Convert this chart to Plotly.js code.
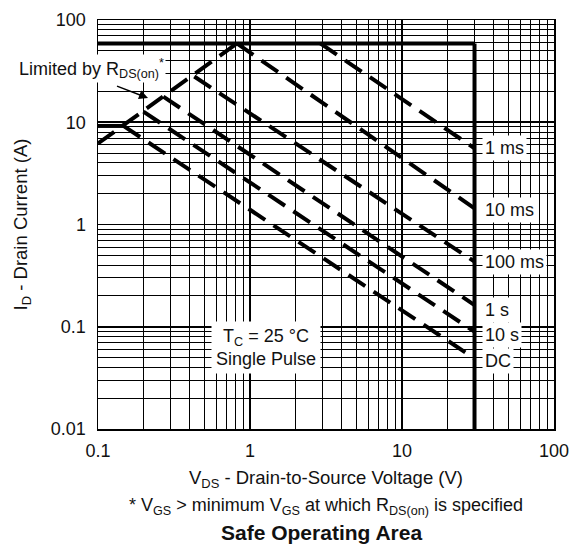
<!DOCTYPE html>
<html><head><meta charset="utf-8">
<script src="https://cdn.plot.ly/plotly-3.0.1.min.js"></script>
<style>html,body{margin:0;padding:0;background:#fff}#chart{width:574px;height:547px}</style>
</head><body><div id="chart"></div>
<script>
// Axis ticks
const xTickVals = [0.1, 1, 10, 100];
const xTickText = ['0.1', '1', '10', '100'];
const yTickVals = [0.01, 0.1, 1, 10, 100];
const yTickText = ['0.01', '0.1', '1', '10', '100'];
const gridDigits = [2, 3, 4, 5, 6, 7, 8, 9];
const xDecades = [0.1, 1, 10];
const yDecades = [0.01, 0.1, 1, 10];

// Boundary lines
const limitV = [0.1, 30];   const limitI = [59, 59];      // current limit
const vmaxV = [30, 30];     const vmaxI = [59, 0.01];     // voltage limit
const rdsV = [0.1, 0.82];   const rdsI = [6.2, 59];       // RDS(on) limit
const dcFlatV = [0.1, 0.147]; const dcFlatI = [9.2, 9.2];

// Pulse curves
const curveNames = ['1 ms', '10 ms', '100 ms', '1 s', '10 s', 'DC'];
const curveV = [[2.9, 30], [0.82, 30], [0.43, 30], [0.269, 30], [0.199, 30], [0.147, 30]];
const curveI = [[59, 5.56], [59, 1.44], [28, 0.433], [17.8, 0.163], [12.7, 0.0895], [9.2, 0.049]];
const labelI = [5.6, 1.39, 0.43, 0.146, 0.083, 0.046];

const FONT = '"Liberation Sans", Arial, Helvetica, sans-serif';
const DASH = '20px,10px';
const TXT = '#111';

function minorVals(decades) {
  const out = [];
  decades.forEach(d => gridDigits.forEach(g => out.push(d * g)));
  return out;
}

const traces = [];
function addLine(x, y, dash) {
  traces.push({x: x, y: y, mode: 'lines', type: 'scatter', hoverinfo: 'skip', showlegend: false,
    line: {color: '#000', width: 4, dash: dash || 'solid'}});
}
addLine(limitV, limitI);
addLine(vmaxV, vmaxI);
addLine(dcFlatV, dcFlatI);
addLine(rdsV, rdsI, DASH);
curveV.forEach((v, i) => addLine(v, curveI[i], DASH));

const annotations = [];
curveNames.forEach((n, i) => {
  annotations.push({x: Math.log10(33.5), y: Math.log10(labelI[i]), xref: 'x', yref: 'y', text: n,
    showarrow: false, xanchor: 'left', yanchor: 'middle', bgcolor: '#fff', borderpad: 2,
    font: {family: FONT, size: 18, color: TXT}});
});
annotations.push({x: 0.108, y: -1.198, xref: 'x', yref: 'y', xanchor: 'center', yanchor: 'middle',
  text: 'T<sub>C</sub> = 25 °C<br>Single Pulse', showarrow: false, bgcolor: '#fff', borderpad: 4,
  font: {family: FONT, size: 18, color: TXT}});
annotations.push({x: -0.014, y: 0.882, xref: 'paper', yref: 'paper', xanchor: 'center', yanchor: 'middle',
  text: 'Limited by R<sub>DS(on)</sub><sup>*</sup>', showarrow: false, bgcolor: '#fff', borderpad: 1,
  font: {family: FONT, size: 18, color: TXT}});
annotations.push({x: -0.671, y: 1.237, xref: 'x', yref: 'y', text: ' ', showarrow: true,
  ax: -34, ay: -13, arrowhead: 2, arrowsize: 1.2, arrowwidth: 1.5, arrowcolor: '#000', standoff: 0});
annotations.push({x: 0.5, y: -0.19, xref: 'paper', yref: 'paper', xanchor: 'center', yanchor: 'middle',
  showarrow: false,
  text: '* V<sub>GS</sub> > minimum V<sub>GS</sub> at which R<sub>DS(on)</sub> is specified',
  font: {family: FONT, size: 18, color: TXT}});
annotations.push({x: 0.49, y: -0.254, xref: 'paper', yref: 'paper', xanchor: 'center', yanchor: 'middle',
  showarrow: false,
  text: '<b>Safe Operating Area</b>', font: {family: FONT, size: 21, color: TXT}});

const axisCommon = {
  type: 'log', showgrid: true, gridcolor: '#000', gridwidth: 1.7,
  showline: true, linecolor: '#000', linewidth: 1.5, mirror: true, zeroline: false,
  ticks: '', tickfont: {family: FONT, size: 18, color: TXT}
};

const layout = {
  width: 574, height: 547,
  margin: {l: 98, r: 20, t: 20, b: 118},
  paper_bgcolor: '#fff', plot_bgcolor: '#fff',
  font: {family: FONT, color: TXT},
  showlegend: false,
  xaxis: Object.assign({}, axisCommon, {
    range: [-1, 2], tickmode: 'array', tickvals: xTickVals, ticktext: xTickText, ticklabelstandoff: 5,
    minor: {tickmode: 'array', tickvals: minorVals(xDecades), showgrid: true, gridcolor: '#000', gridwidth: 1, ticks: ''},
    title: {text: 'V<sub>DS</sub> - Drain-to-Source Voltage (V)', font: {family: FONT, size: 18.5, color: TXT}, standoff: 11}
  }),
  yaxis: Object.assign({}, axisCommon, {
    range: [-2, 2], tickmode: 'array', tickvals: yTickVals, ticktext: yTickText, ticklabelstandoff: 7,
    minor: {tickmode: 'array', tickvals: minorVals(yDecades), showgrid: true, gridcolor: '#000', gridwidth: 1, ticks: ''},
    title: {text: 'I<sub>D</sub> - Drain Current (A)', font: {family: FONT, size: 18.5, color: TXT}, standoff: 18}
  }),
  annotations: annotations
};

Plotly.newPlot('chart', traces, layout, {displayModeBar: false, staticPlot: true});
</script>
</body></html>
